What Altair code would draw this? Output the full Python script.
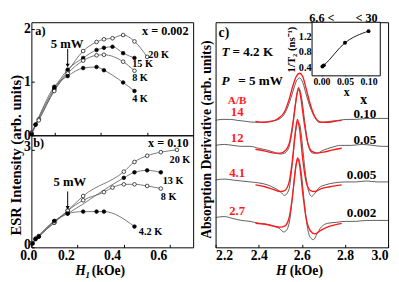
import altair as alt
import pandas as pd

FONT = "Liberation Serif"

# ---------------- Panel a (x = 0.002) ----------------
a_series = ["20 K", "15 K", "8 K", "4 K"]
a_fill = ["white", "black", "white", "black"]
a_H = [
    [0.0, 0.032, 0.099, 0.157, 0.224, 0.282, 0.314, 0.351, 0.397, 0.446, 0.501],
    [0.0, 0.018, 0.099, 0.157, 0.224, 0.282, 0.314, 0.351, 0.397, 0.446],
    [0.0, 0.032, 0.099, 0.157, 0.224, 0.282, 0.314, 0.397, 0.446],
    [0.0, 0.018, 0.099, 0.157, 0.224, 0.282, 0.314, 0.397, 0.446],
]
a_I = [
    [0.05, 0.30, 0.85, 1.20, 1.58, 1.75, 1.80, 1.82, 1.88, 1.76, 1.47],
    [0.03, 0.20, 0.88, 1.23, 1.45, 1.60, 1.64, 1.66, 1.54, 1.45],
    [0.03, 0.28, 0.83, 1.16, 1.40, 1.50, 1.51, 1.38, 1.21],
    [0.02, 0.20, 0.91, 1.11, 1.26, 1.28, 1.22, 0.99, 0.83],
]

# ---------------- Panel b (x = 0.10) ----------------
b_series = ["20 K", "13 K", "8 K", "4.2 K"]
b_fill = ["white", "black", "white", "black"]
b_H = [
    [0.0, 0.032, 0.099, 0.157, 0.224, 0.40, 0.446, 0.501, 0.56, 0.63],
    [0.018, 0.099, 0.157, 0.40, 0.446, 0.501, 0.56],
    [0.005, 0.032, 0.099, 0.157, 0.224, 0.314, 0.351, 0.40, 0.446, 0.501, 0.56],
    [0.005, 0.018, 0.032, 0.099, 0.157, 0.224, 0.282, 0.314, 0.446],
]
b_I = [
    [0.13, 0.35, 0.76, 1.13, 1.58, 2.33, 2.63, 2.82, 2.93, 3.00],
    [0.27, 0.81, 1.04, 2.14, 2.31, 2.37, 2.31],
    [0.12, 0.33, 0.76, 1.13, 1.45, 1.70, 1.84, 1.94, 1.94, 1.89, 1.81],
    [0.12, 0.25, 0.33, 0.81, 1.04, 1.10, 1.10, 1.10, 0.64],
]

# ---------------- Panel c spectra ----------------
c_names = ["0.10", "0.05", "0.005", "0.002"]
c_offset = [133, 106, 70, 30]
c_ratio = ["14", "12", "4.1", "2.7"]
c_data_H = [
    [2.20, 2.23, 2.27, 2.30, 2.34, 2.38, 2.42, 2.45, 2.48, 2.50, 2.52, 2.54, 2.56, 2.575, 2.59, 2.605, 2.62, 2.64, 2.66, 2.68, 2.70, 2.73, 2.77, 2.81, 2.85, 2.90, 2.95, 3.00],
    [2.20, 2.24, 2.28, 2.32, 2.36, 2.40, 2.44, 2.47, 2.50, 2.52, 2.54, 2.555, 2.57, 2.58, 2.59, 2.60, 2.615, 2.63, 2.65, 2.67, 2.70, 2.74, 2.78, 2.83, 2.88, 2.93, 2.97, 3.00],
    [2.20, 2.24, 2.28, 2.32, 2.36, 2.40, 2.44, 2.47, 2.50, 2.52, 2.54, 2.555, 2.57, 2.58, 2.59, 2.60, 2.615, 2.63, 2.645, 2.66, 2.68, 2.71, 2.75, 2.80, 2.85, 2.90, 2.95, 3.00],
    [2.20, 2.24, 2.28, 2.32, 2.36, 2.40, 2.44, 2.47, 2.50, 2.515, 2.53, 2.545, 2.56, 2.575, 2.585, 2.595, 2.61, 2.625, 2.64, 2.655, 2.67, 2.69, 2.72, 2.76, 2.80, 2.85, 2.90, 2.95, 3.00],
]
c_data_S = [
    [-1, 0, 0, -1, -2, -3, -3, -2, -1, 1, 6, 16, 30, 40, 43, 38, 26, 12, 2, -3, -3, -2, -1, 0, 0, 1, 1, 1],
    [0, 1, 0, -1, -1, -3, -5, -7, -9, -8, -2, 15, 42, 56, 58, 48, 22, 0, -8, -8, -5, -2, 0, 0, 1, 0, -1, -1],
    [0, 1, 0, -1, -2, -3, -5, -8, -12, -16, -10, 15, 48, 60, 58, 42, 10, -10, -17, -14, -8, -5, -3, -2, -2, -1, -2, -2],
    [1, 2, 0, -2, -3, -5, -6, -8, -11, -14, -12, 0, 30, 58, 62, 52, 20, -8, -20, -22, -16, -9, -5, -4, -3, -3, -2, -2, -2],
]
c_fit_H = [
    [2.385, 2.42, 2.46, 2.49, 2.52, 2.54, 2.56, 2.575, 2.59, 2.605, 2.62, 2.64, 2.66, 2.69, 2.72, 2.75, 2.785],
    [2.385, 2.43, 2.47, 2.50, 2.525, 2.545, 2.56, 2.575, 2.585, 2.595, 2.61, 2.625, 2.645, 2.67, 2.70, 2.74, 2.785],
    [2.385, 2.43, 2.47, 2.50, 2.52, 2.54, 2.555, 2.57, 2.58, 2.59, 2.605, 2.62, 2.64, 2.66, 2.69, 2.73, 2.785],
    [2.385, 2.43, 2.47, 2.50, 2.52, 2.54, 2.555, 2.57, 2.58, 2.59, 2.605, 2.62, 2.64, 2.66, 2.69, 2.73, 2.785],
]
c_fit_S = [
    [-2, -3, -2, 1, 8, 20, 36, 45, 48, 44, 32, 15, 3, -3, -3, -2, -1],
    [-4, -6, -8, -8, -5, 5, 25, 50, 60, 50, 25, 5, -6, -8, -7, -5, -3],
    [-5, -7, -10, -12, -11, -3, 18, 50, 63, 52, 20, -2, -11, -12, -9, -7, -5],
    [-5, -6, -8, -9, -8, 0, 20, 50, 63, 55, 25, 0, -13, -16, -12, -8, -5],
]

# ---------------- Inset ----------------
ins_x = [0.002, 0.005, 0.05, 0.10]
ins_y = [0.42, 0.45, 1.03, 1.33]


def long_df(names, Hs, Vs, extra):
    rows = []
    for n, hh, vv, e in zip(names, Hs, Vs, extra):
        for h, v in zip(hh, vv):
            rows.append({"s": n, "H": h, "V": v, "e": e})
    return pd.DataFrame(rows)


df_a = long_df(a_series, a_H, a_I, a_fill)
df_b = long_df(b_series, b_H, b_I, b_fill)
df_cd = long_df(c_names, c_data_H, [[o + s for s in ss] for o, ss in zip(c_offset, c_data_S)], c_names)
df_cf = long_df(c_names, c_fit_H, [[o + s for s in ss] for o, ss in zip(c_offset, c_fit_S)], c_names)
df_ins = pd.DataFrame({"x": ins_x, "y": ins_y})

W_L, H_A, H_B = 166, 116, 115
W_C, H_C = 177, 231
INS_L, INS_R, INS_B = 99, 169, 55
TITLE_DY = 24


def text_layer(rows, xs, ys, align="left", size=12, color="black", style="normal", baseline="middle"):
    d = pd.DataFrame(rows, columns=["t", "X", "Y"])
    return alt.Chart(d).mark_text(align=align, baseline=baseline, font=FONT, fontSize=size,
                                  fontWeight="bold", fontStyle=style, color=color).encode(
        x=alt.X("X:Q", scale=xs), y=alt.Y("Y:Q", scale=ys), text="t:N")


def axis_title(parts, ypix):
    """Axis title made of pieces (text, x pixel, size, style, dy) placed under the plot."""
    out = []
    for t, xp, sz, st, dy in parts:
        out.append(alt.Chart(pd.DataFrame({"t": [t]})).mark_text(
            align="left", baseline="middle", font=FONT, fontSize=sz, fontWeight="bold",
            fontStyle=st, color="black", dy=dy).encode(
            x=alt.value(xp), y=alt.value(ypix), text="t:N"))
    return out


def left_panel(df, ysc, height, xaxis, yaxis, labels, arrow, extra=()):
    xs = alt.Scale(domain=[0, 0.7], nice=False)
    base = alt.Chart(df)
    lines = base.mark_line(interpolate="monotone", color="#555", strokeWidth=0.8).encode(
        x=alt.X("H:Q", scale=xs, axis=xaxis), y=alt.Y("V:Q", scale=ysc, axis=yaxis), detail="s:N")
    pts = base.mark_circle(size=14, stroke="black", strokeWidth=0.7, opacity=1).encode(
        x=alt.X("H:Q", scale=xs), y=alt.Y("V:Q", scale=ysc), fill=alt.Fill("e:N", scale=None))
    ad = pd.DataFrame({"H": [arrow[0]], "y1": [arrow[1]], "y2": [arrow[2]]})
    rule = alt.Chart(ad).mark_rule(color="black", strokeWidth=1).encode(
        x=alt.X("H:Q", scale=xs), y=alt.Y("y1:Q", scale=ysc), y2="y2:Q")
    head = alt.Chart(ad).mark_point(shape="triangle-down", size=18, filled=True, color="black", opacity=1).encode(
        x=alt.X("H:Q", scale=xs), y=alt.Y("y2:Q", scale=ysc))
    layers = [lines, pts, rule, head]
    for rows, al, sz in labels:
        layers.append(text_layer(rows, xs, ysc, align=al, size=sz))
    layers.extend(extra)
    return alt.layer(*layers).properties(width=W_L, height=height)


ya = alt.Scale(domain=[0, 2.12], nice=False)
yb = alt.Scale(domain=[0, 3.45], nice=False)

xaxis_a = alt.Axis(values=[0.1, 0.2, 0.3, 0.4, 0.5, 0.6], labels=False, ticks=True, tickSize=3, offset=-3,
                   domain=False, title=None, grid=False)
yaxis_a = alt.Axis(values=[0, 0.5, 1, 1.5, 2], format=".0f", labelExpr="datum.value % 1 == 0 ? datum.label : ''",
                   tickSize=3, offset=-3, domain=False, title=None, labelPadding=1, labelFontSize=14)
xaxis_b = alt.Axis(values=[0, 0.1, 0.2, 0.3, 0.4, 0.5, 0.6], format=".1f",
                   labelExpr="round(datum.value*10) % 2 == 0 ? datum.label : ''",
                   tickSize=3, offset=-3, domain=False, title=None, labelOffset=-12,
                   labelPadding=1, labelFontSize=14)
yaxis_b = alt.Axis(values=[0, 0.5, 1, 1.5, 2, 2.5, 3], format=".0f",
                   labelExpr="datum.value % 1 == 0 ? datum.label : ''",
                   tickSize=3, offset=-3, domain=False, title="ESR Intensity (arb. units)",
                   titleY=20, titleFontSize=15, labelPadding=1, labelFontSize=14, titlePadding=0,
                   labelOffset=-3)

panel_a = left_panel(
    df_a, ya, H_A, xaxis_a, yaxis_a,
    [
        ([["a)", 0.017, 1.95]], "left", 12.5),
        ([["20 K", 0.506, 1.50], ["15 K", 0.436, 1.34], ["8 K", 0.436, 1.07],
          ["4 K", 0.436, 0.68]], "left", 10.5),
        ([["x = 0.002", 0.68, 1.95]], "right", 12.5),
        ([["5 mW", 0.154, 1.71]], "center", 13),
    ],
    (0.157, 1.62, 1.31),
)
panel_b = left_panel(
    df_b, yb, H_B, xaxis_b, yaxis_b,
    [
        ([["b)", 0.008, 3.2]], "left", 12.5),
        ([["20 K", 0.598, 2.68], ["13 K", 0.568, 2.03], ["8 K", 0.56, 1.56],
          ["4.2 K", 0.465, 0.47]], "left", 10.5),
        ([["x = 0.10", 0.68, 3.2]], "right", 12.5),
        ([["5 mW", 0.166, 2.0]], "center", 13),
    ],
    (0.157, 1.72, 1.22),
    extra=axis_title([["H", 45, 14, "italic", 0], ["1", 55.5, 9, "italic", 4], ["(kOe)", 62, 14, "normal", 0]],
                     H_B + TITLE_DY),
)

# ---------------- Panel c ----------------
xc = alt.Scale(domain=[2.2, 3.0], nice=False)
yc = alt.Scale(domain=[0, 234], nice=False)
xaxis_c = alt.Axis(values=[2.2, 2.3, 2.4, 2.5, 2.6, 2.7, 2.8, 2.9, 3.0], format=".1f",
                   labelExpr="round(datum.value*10) % 2 == 0 ? datum.label : ''",
                   tickSize=3, offset=-3, domain=False, title=None, labelFlush=True,
                   labelPadding=1, labelFontSize=14)
yaxis_c = alt.Axis(labels=False, ticks=False, domain=False, title="Absorption Derivative (arb. units)",
                   titleFontSize=14, titlePadding=2, titleY=120)

spec = alt.Chart(df_cd).mark_line(interpolate="monotone", color="#333", strokeWidth=0.8).encode(
    x=alt.X("H:Q", scale=xc, axis=xaxis_c), y=alt.Y("V:Q", scale=yc, axis=yaxis_c), detail="s:N")
fit = alt.Chart(df_cf).mark_line(interpolate="monotone", color="#ff1a1a", strokeWidth=1.4).encode(
    x=alt.X("H:Q", scale=xc), y=alt.Y("V:Q", scale=yc), detail="s:N")

c_texts = [
    text_layer([["c)", 2.214, 223]], xc, yc, size=14),
    text_layer([["T", 2.227, 203], ["P", 2.227, 173]], xc, yc, size=13.5, style="italic"),
    text_layer([["= 4.2 K", 2.278, 203], ["= 5 mW", 2.305, 173]], xc, yc, size=13.5),
    text_layer([["A/B", 2.30, 152]], xc, yc, align="center", size=11.5, color="#ff1a1a"),
    text_layer([[r, 2.30, o + 7.5] for r, o in zip(c_ratio, c_offset)],
               xc, yc, align="center", size=13, color="#ff1a1a"),
    text_layer([["x", 2.887, 153]], xc, yc, align="center", size=14),
    text_layer([[n, 2.946, o + 5.5] for n, o in zip(c_names, c_offset)], xc, yc, align="right", size=13.5),
    text_layer([["6.6 <", 2.693, 234.5]], xc, yc, align="center", size=12.5, baseline="alphabetic"),
    text_layer([["< 30", 2.90, 234.5]], xc, yc, align="center", size=12.5, baseline="alphabetic"),
]
c_title = axis_title([["H", 62, 14, "italic", 0], ["(kOe)", 76, 14, "normal", 0]], H_C + TITLE_DY)
main_c = alt.layer(spec, fit, *c_texts, *c_title)

ix = alt.Scale(domain=[-0.02, 0.125], range=[INS_L, INS_R], nice=False)
iy = alt.Scale(domain=[0.18, 1.56], range=[INS_B, 0], nice=False)
ins_xaxis = alt.Axis(orient="bottom", offset=-(H_C - INS_B) - 3, values=[0, 0.05, 0.10], format=".2f",
                     tickSize=3, domain=False, title="x", titlePadding=0, labelPadding=1,
                     labelFontSize=10, titleFontSize=12)
ins_yaxis = alt.Axis(orient="left", offset=-INS_L - 3, values=[0.4, 0.8, 1.2], format=".1f",
                     tickSize=3, domain=False, title="1/T₂ (ns⁻¹)", titlePadding=2, labelPadding=1,
                     labelFontSize=10.5, titleFontSize=11)
box = alt.Chart(pd.DataFrame({"a": [0]})).mark_rect(fill="white", stroke="black", strokeWidth=1).encode(
    x=alt.X(datum=-0.02, scale=ix, axis=ins_xaxis, type="quantitative"),
    x2=alt.datum(0.125),
    y=alt.Y(datum=0.18, scale=iy, axis=ins_yaxis, type="quantitative"),
    y2=alt.datum(1.56))
ins_line = alt.Chart(df_ins).mark_line(interpolate="monotone", color="black", strokeWidth=0.9).encode(
    x=alt.X("x:Q", scale=ix), y=alt.Y("y:Q", scale=iy))
ins_pts = alt.Chart(df_ins).mark_circle(size=16, color="black", opacity=1).encode(
    x=alt.X("x:Q", scale=ix), y=alt.Y("y:Q", scale=iy))
inset = alt.layer(box, ins_line, ins_pts)

panel_c = alt.layer(main_c, inset).resolve_scale(x="independent", y="independent").properties(
    width=W_C, height=H_C)

left = alt.vconcat(panel_a, panel_b, spacing=0, bounds="flush")
chart = alt.hconcat(left, panel_c, spacing=5).properties(
    padding={"left": 0, "top": 0, "right": 0, "bottom": 0}
).configure_view(stroke="black", strokeWidth=1).configure_axis(
    labelFont=FONT, titleFont=FONT, labelFontWeight="bold", titleFontWeight="bold",
    labelColor="black", titleColor="black", tickColor="black", grid=False
).configure_text(font=FONT)

chart.save("out.html", embed_options={"renderer": "svg", "actions": False})
